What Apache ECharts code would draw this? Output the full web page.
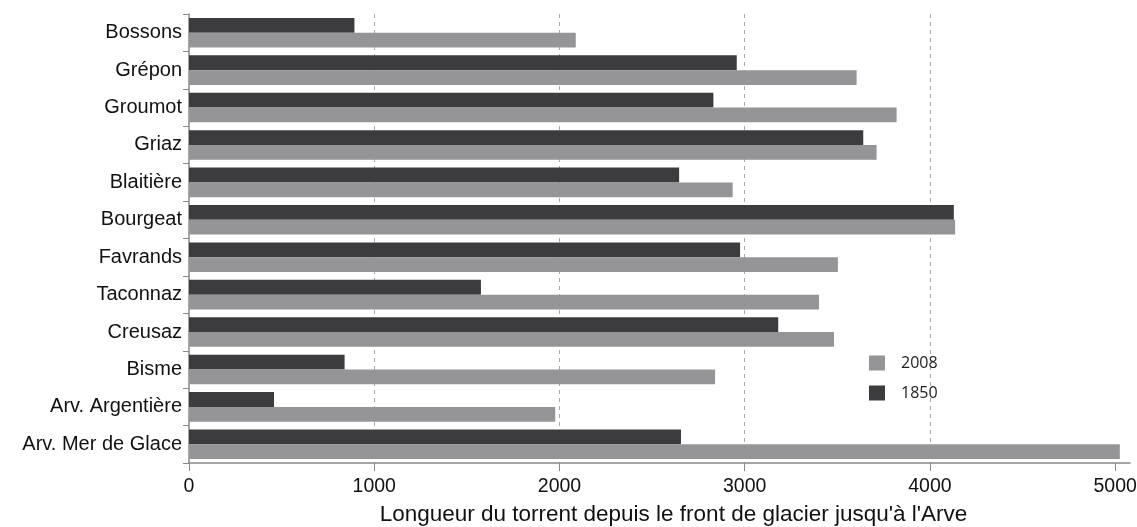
<!DOCTYPE html>
<html>
<head>
<meta charset="utf-8">
<script src="https://cdn.jsdelivr.net/npm/echarts@6/dist/echarts.min.js"></script>
<style>
  html, body { margin: 0; padding: 0; background: #fff; }
  #chart { width: 1137px; height: 527px; }
</style>
</head>
<body>
<div id="chart"></div>
<script>
var categories = ['Bossons', 'Grépon', 'Groumot', 'Griaz', 'Blaitière', 'Bourgeat',
    'Favrands', 'Taconnaz', 'Creusaz', 'Bisme', 'Arv. Argentière', 'Arv. Mer de Glace'];
var values1850 = [893, 2957, 2831, 3640, 2646, 4129, 2975, 1576, 3181, 840, 459, 2656];
var values2008 = [2088, 3604, 3820, 3712, 2935, 4136, 3503, 3401, 3482, 2840, 1977, 5025];
var xTicks = [0, 1000, 2000, 3000, 4000, 5000];

var myChart = echarts.init(document.getElementById('chart'));
var labelFont = 'Liberation Sans, Arial, sans-serif';

var option = {
    animation: false,
    grid: { left: 189, right: 7, top: 14, bottom: 64, outerBoundsMode: 'none', containLabel: false },
    legend: {
        orient: 'vertical',
        left: 869,
        top: 355,
        padding: 0,
        itemWidth: 16,
        itemHeight: 15,
        itemGap: 14,
        icon: 'rect',
        data: ['2008', '1850'],
        textStyle: { fontSize: 16, color: '#222', fontFamily: 'Open Sans, sans-serif', padding: [0, 0, 0, 11] }
    },
    xAxis: {
        type: 'value',
        min: 0,
        max: 5080,
        interval: 1000,
        name: 'Longueur du torrent depuis le front de glacier jusqu\'à l\'Arve',
        nameLocation: 'middle',
        nameGap: 40,
        nameTextStyle: { fontSize: 22.5, color: '#111', fontFamily: labelFont, padding: [0, 0, 0, 28] },
        axisLine: { show: true, lineStyle: { color: '#888', width: 1.5 } },
        axisTick: { show: true, length: 8, customValues: xTicks, lineStyle: { color: '#888' } },
        axisLabel: {
            customValues: xTicks,
            fontSize: 19.5,
            color: '#111',
            fontFamily: labelFont,
            margin: 14,
            formatter: function (v) { return String(v); }
        },
        splitLine: {
            show: true,
            showMinLine: false,
            showMaxLine: false,
            lineStyle: { type: [4, 4], color: '#aaa', width: 1 }
        }
    },
    yAxis: {
        type: 'category',
        inverse: true,
        data: categories,
        axisLine: { show: true, lineStyle: { color: '#888', width: 1.5 } },
        axisTick: { show: true, length: 6, lineStyle: { color: '#888' } },
        axisLabel: { fontSize: 20, color: '#111', fontFamily: labelFont, margin: 7 }
    },
    series: [
        {
            name: '1850',
            type: 'bar',
            data: values1850,
            barGap: '0%',
            barCategoryGap: '21%',
            itemStyle: { color: '#3c3c3f' }
        },
        {
            name: '2008',
            type: 'bar',
            data: values2008,
            itemStyle: { color: '#959597' }
        }
    ]
};
myChart.setOption(option);
</script>
</body>
</html>
